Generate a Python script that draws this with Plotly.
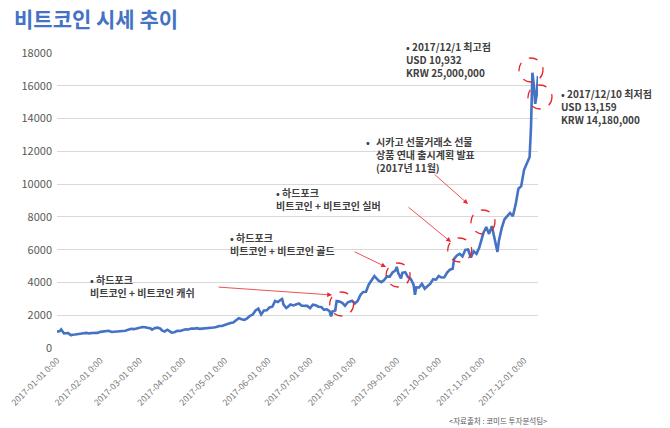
import plotly.graph_objects as go
from datetime import datetime

# ---------------- data ----------------
dates = [
 "2017-01-01","2017-01-03","2017-01-04","2017-01-05","2017-01-06","2017-01-07","2017-01-09","2017-01-11","2017-01-12","2017-01-14",
 "2017-01-16","2017-01-18","2017-01-20","2017-01-22","2017-01-24","2017-01-26","2017-01-28","2017-01-30","2017-02-01","2017-02-03",
 "2017-02-05","2017-02-07","2017-02-09","2017-02-11","2017-02-13","2017-02-15","2017-02-17","2017-02-19","2017-02-21","2017-02-23",
 "2017-02-25","2017-02-27","2017-03-01","2017-03-03","2017-03-05","2017-03-07","2017-03-09","2017-03-10","2017-03-12","2017-03-14",
 "2017-03-16","2017-03-17","2017-03-19","2017-03-21","2017-03-22","2017-03-24","2017-03-26","2017-03-28","2017-03-30","2017-04-01",
 "2017-04-03","2017-04-05","2017-04-07","2017-04-09","2017-04-11","2017-04-13","2017-04-15","2017-04-17","2017-04-19","2017-04-21",
 "2017-04-23","2017-04-25","2017-04-27","2017-04-29","2017-05-01","2017-05-03","2017-05-05","2017-05-07","2017-05-09","2017-05-11",
 "2017-05-13","2017-05-15","2017-05-17","2017-05-19","2017-05-21","2017-05-23","2017-05-25","2017-05-26","2017-05-27","2017-05-29",
 "2017-05-31","2017-06-02","2017-06-04","2017-06-06","2017-06-08","2017-06-10","2017-06-11","2017-06-12","2017-06-14","2017-06-15",
 "2017-06-17","2017-06-19","2017-06-21","2017-06-23","2017-06-25","2017-06-27","2017-06-29","2017-07-01","2017-07-03","2017-07-05",
 "2017-07-07","2017-07-09","2017-07-11","2017-07-13","2017-07-15","2017-07-16","2017-07-17","2017-07-19","2017-07-20","2017-07-22",
 "2017-07-24","2017-07-26","2017-07-28","2017-07-31","2017-08-02","2017-08-04","2017-08-06","2017-08-08","2017-08-10","2017-08-12",
 "2017-08-14","2017-08-16","2017-08-17","2017-08-19","2017-08-21","2017-08-23","2017-08-25","2017-08-27","2017-08-29","2017-08-31",
 "2017-09-01","2017-09-02","2017-09-04","2017-09-05","2017-09-07","2017-09-09","2017-09-11","2017-09-13","2017-09-14","2017-09-15",
 "2017-09-17","2017-09-19","2017-09-21","2017-09-23","2017-09-25","2017-09-27","2017-09-29","2017-10-01","2017-10-03","2017-10-05",
 "2017-10-07","2017-10-09","2017-10-11","2017-10-12","2017-10-14","2017-10-16","2017-10-18","2017-10-20","2017-10-22","2017-10-24",
 "2017-10-26","2017-10-28","2017-10-30","2017-11-01","2017-11-02","2017-11-04","2017-11-06","2017-11-08","2017-11-10","2017-11-12",
 "2017-11-13","2017-11-15","2017-11-17","2017-11-19","2017-11-21","2017-11-23","2017-11-25","2017-11-27","2017-11-29","2017-12-01",
 "2017-12-03","2017-12-05","2017-12-06","2017-12-07","2017-12-08","2017-12-09","2017-12-10","2017-12-11",
]
prices = [
 998,1030,1135,1005,890,900,905,780,810,820,
 830,870,895,920,890,915,920,920,985,1015,
 1020,1050,980,1000,995,1010,1050,1055,1120,1170,
 1150,1190,1225,1280,1265,1235,1190,1115,1225,1245,
 1180,1075,1010,1115,1040,935,965,1045,1040,1090,
 1145,1130,1190,1180,1210,1170,1180,1200,1210,1250,
 1250,1280,1345,1340,1420,1490,1530,1560,1720,1820,
 1750,1720,1810,1960,2040,2290,2400,2190,2050,2290,
 2300,2480,2520,2870,2800,2940,2990,2650,2440,2500,
 2650,2600,2680,2720,2580,2590,2570,2430,2640,2610,
 2520,2500,2330,2360,2240,1930,2230,2290,2860,2830,
 2760,2580,2790,2880,2720,2870,3240,3420,3430,3880,
 4170,4390,4300,4110,4020,4150,4370,4360,4610,4730,
 4950,4590,4240,4590,4630,4330,4220,3870,3250,3700,
 3690,3920,3620,3790,3920,4200,4170,4400,4300,4310,
 4600,4780,4830,5440,5650,5750,5590,5990,6010,5520,
 5900,5750,6130,6740,7030,7380,6960,7440,6620,5860,
 6530,7300,7850,8040,8240,8040,8750,9720,9880,10860,
 11300,11650,13500,16800,16050,14900,15400,16600,
]
tick_dates = ["2017-%02d-01" % m for m in range(1, 13)]
y_ticks = list(range(0, 18001, 2000))

# event markers (circle centres, data coords)
circle_dates = ["2017-07-23 14:00", "2017-09-01 22:00", "2017-10-16", "2017-11-01 16:00", "2017-12-06", "2017-12-12 10:00"]
circle_vals = [2685, 4454, 5980, 7688, 16962, 15315]

title_text = "비트코인 시세 추이"
source_text = "<자료출처 : 코미드 투자분석팀>"

# ---------------- layout geometry ----------------
W, H = 670, 428
L, R, T, B = 57, 132, 53, 80
X_START, X_END = datetime(2017, 1, 1), datetime(2017, 12, 11)
Y_MAX = 18000
pw, ph = W - L - R, H - T - B

def to_dt(s):
    return datetime.fromisoformat(s)

def data_to_paper(d, v):
    fx = (to_dt(d) - X_START).total_seconds() / (X_END - X_START).total_seconds()
    return fx, v / Y_MAX

def px_to_paper(px, py):
    return (px - L) / pw, (H - B - py) / ph

BLUE = "#4472C4"
RED = "#E8262B"
TXT = "#404040"
FONT = "Noto Sans CJK KR"

fig = go.Figure()
fig.add_trace(go.Scatter(x=dates, y=prices, mode="lines",
                         line=dict(color=BLUE, width=2.6), hoverinfo="skip", showlegend=False))

shapes = []
for d, v in zip(circle_dates, circle_vals):
    fx, fy = data_to_paper(d, v)
    shapes.append(dict(type="circle", xref="paper", yref="paper",
                       xsizemode="pixel", ysizemode="pixel",
                       xanchor=fx, yanchor=fy, x0=-12, x1=12, y0=-12, y1=12,
                       line=dict(color=RED, width=1.3, dash="dash")))

annotations = []
# arrows: (tail px, head px)
arrows = [((217, 287), (332, 295)),
          ((353, 251), (386, 267)),
          ((407, 206), (451, 242)),
          ((433, 173), (468, 204))]
for (tx, ty), (hx, hy) in arrows:
    fx, fy = px_to_paper(hx, hy)
    annotations.append(dict(xref="paper", yref="paper", x=fx, y=fy, text="",
                            showarrow=True, axref="pixel", ayref="pixel",
                            ax=tx - hx, ay=ty - hy, arrowhead=2, arrowsize=1.2,
                            arrowwidth=0.8, arrowcolor=RED, standoff=0))

# text blocks: (left px, centre py, text)
texts = [
    (88, 285.5, "• 하드포크<br>비트코인 + 비트코인 캐쉬"),
    (228, 244, "• 하드포크<br>비트코인 + 비트코인 골드"),
    (274, 199, "• 하드포크<br>비트코인 + 비트코인 실버"),
    (374, 154, "시카고 선물거래소 선물<br>상품 연내 출시계획 발표<br>(2017년 11월)"),
    (404, 60, "• 2017/12/1 최고점<br>USD 10,932<br>KRW 25,000,000"),
    (559, 106, "• 2017/12/10 최저점<br>USD 13,159<br>KRW 14,180,000"),
]
for px, py, t in texts:
    fx, fy = px_to_paper(px, py)
    annotations.append(dict(xref="paper", yref="paper", x=fx, y=fy, text=t,
                            showarrow=False, xanchor="left", yanchor="middle",
                            align="left", font=dict(family=FONT, size=10, color=TXT, weight="bold")))
# hanging bullet for the Chicago block
fx, fy = px_to_paper(364, 141.5)
annotations.append(dict(xref="paper", yref="paper", x=fx, y=fy, text="•",
                        showarrow=False, xanchor="left", yanchor="middle",
                        font=dict(family=FONT, size=10, color=TXT, weight="bold")))

# title
fx, fy = px_to_paper(12, 18)
annotations.append(dict(xref="paper", yref="paper", x=fx, y=fy, text="<b>%s</b>" % title_text,
                        showarrow=False, xanchor="left", yanchor="middle",
                        font=dict(family=FONT, size=21, color=BLUE)))
# source
fx, fy = px_to_paper(549, 420)
annotations.append(dict(xref="paper", yref="paper", x=fx, y=fy, text=source_text.replace("<", "&lt;").replace(">", "&gt;"),
                        showarrow=False, xanchor="right", yanchor="middle",
                        font=dict(family=FONT, size=7.5, color="#595959")))

fig.update_layout(
    width=W, height=H,
    margin=dict(l=L, r=R, t=T, b=B, pad=0, autoexpand=False),
    paper_bgcolor="white", plot_bgcolor="white",
    shapes=shapes, annotations=annotations,
    font=dict(family=FONT, color="#595959"),
    xaxis=dict(type="date", range=[X_START, X_END], tickvals=tick_dates,
               tickformat="%Y-%m-%d %-H:%M", tickangle=-45,
               tickfont=dict(size=8.7, color="#767676"),
               showgrid=False, zeroline=False, showline=False, ticks="",
               ticklabelstandoff=5, automargin=False),
    yaxis=dict(range=[0, Y_MAX], tickvals=y_ticks, tickformat="d",
               tickfont=dict(size=11, color="#595959"),
               showgrid=True, gridcolor="#D9D9D9", gridwidth=1,
               zeroline=False, showline=False, ticks="", ticklabelstandoff=4, automargin=False),
)

fig.write_html("out.html", config={"displayModeBar": False, "staticPlot": True},
               post_script="document.body.style.margin='0';document.body.style.overflow='hidden';")
